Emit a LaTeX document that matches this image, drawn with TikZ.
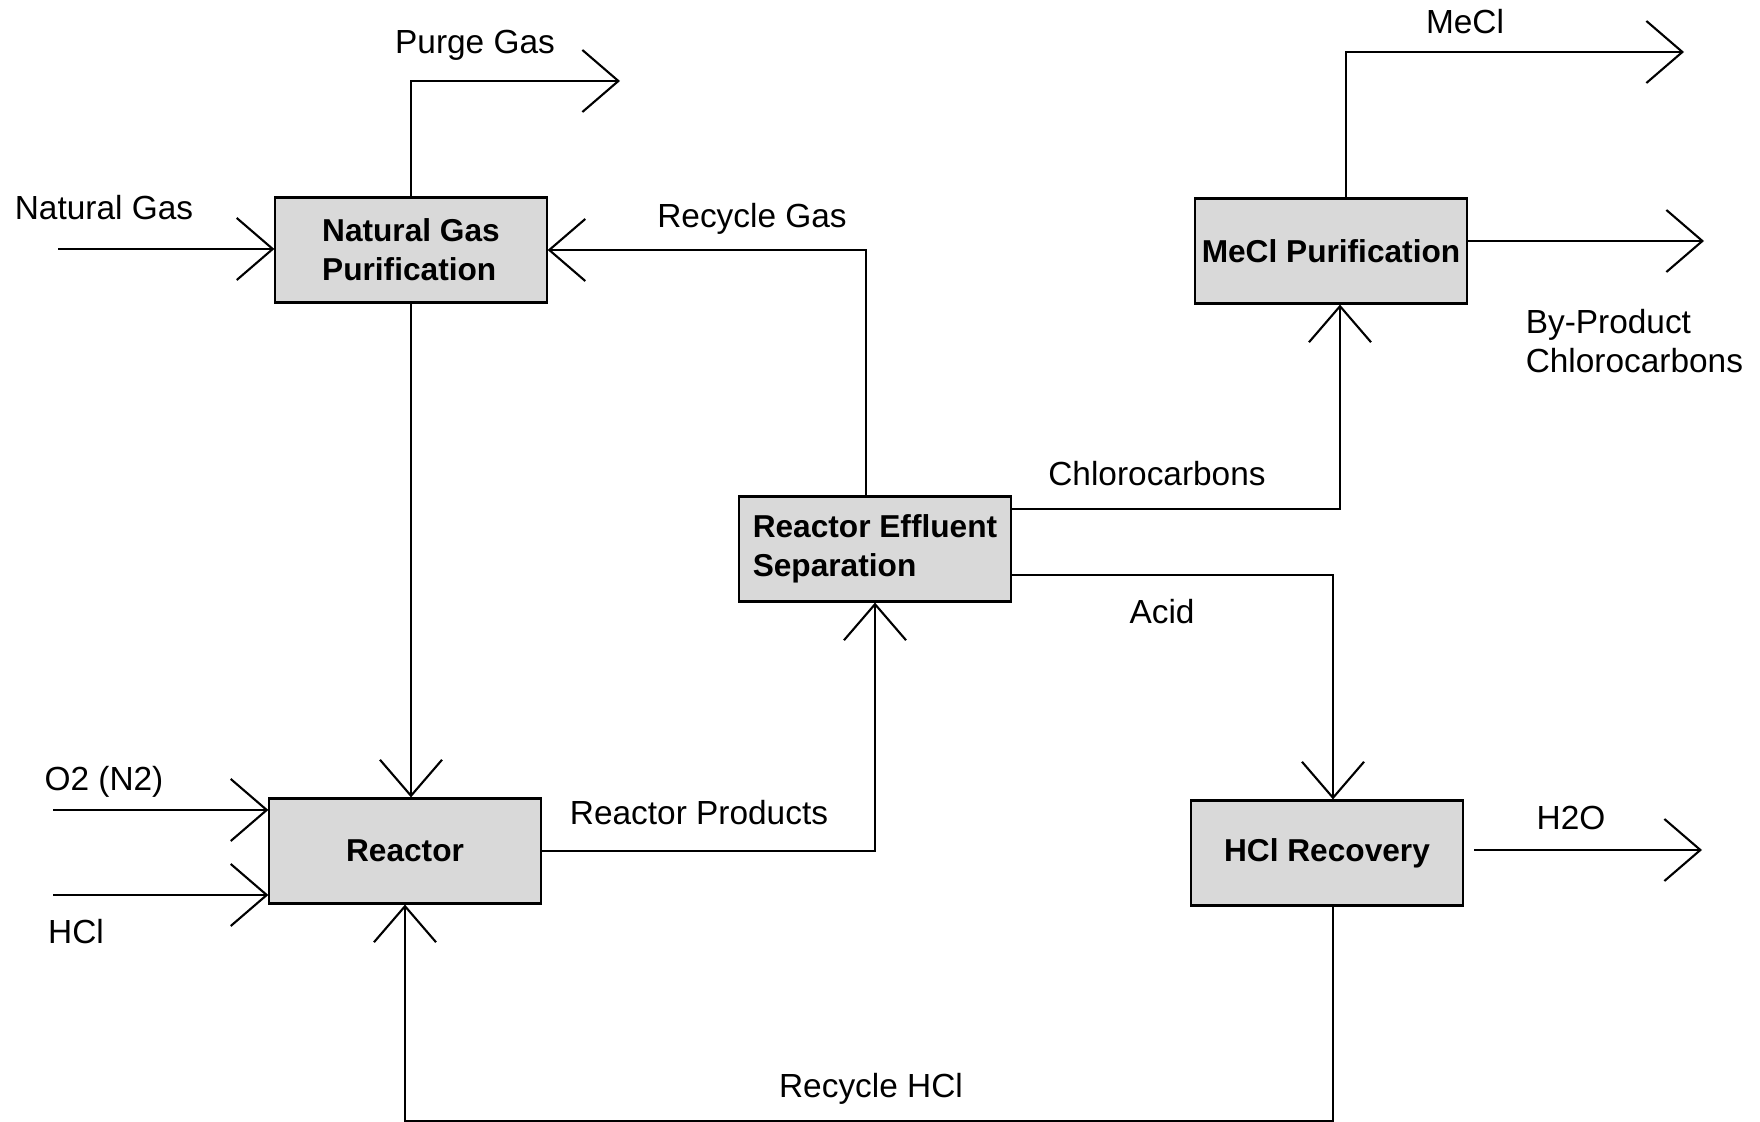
\documentclass[tikz,border=0pt]{standalone}
\usepackage{fontspec}
\setmainfont{Liberation Sans}
\usetikzlibrary{arrows.meta,positioning}

\begin{document}
\begin{tikzpicture}[
  x=0.01cm, y=-0.01cm,
  font=\fontsize{9.5}{11}\selectfont,
  line width=0.6pt,
  box/.style={draw, fill=gray!30, align=left, minimum width=2.71cm, minimum height=1.05cm, inner sep=2pt, font=\fontsize{9}{11}\selectfont\bfseries},
  arrow/.style={-{Straight Barb[length=3.6mm, width=6.2mm]}}
]
\useasboundingbox (0,0) rectangle (1760,1122);

% process units
\node[box] (ngp) at (411,250) {Natural Gas\\Purification};
\node[box] (reactor) at (405,851) {Reactor};
\node[box] (sep) at (875,549) {Reactor Effluent\\Separation};
\node[box] (mecl) at (1331,251) {MeCl Purification};
\node[box] (hclrec) at (1327,853) {HCl Recovery};

% free ends of the streams
\coordinate (ngin) at (58,249);
\coordinate (o2in) at (53,810);
\coordinate (hclin) at (53,895);
\coordinate (purge) at (620,81);
\coordinate (meclout) at (1684,52);
\coordinate (byout) at (1704,241);
\coordinate (h2ostart) at (1474,850);
\coordinate (h2oout) at (1702,850);
\coordinate (bottom) at (0,1121);

% streams
\draw[arrow] (ngin) -- (ngin -| ngp.west);
\draw[arrow] (ngp.north) |- (purge);
\draw[arrow] (ngp.south) -- (ngp.south |- reactor.north);
\draw[arrow] ([xshift=-0.09cm]sep.north) |- (ngp.east);
\draw[arrow] (o2in) -- (o2in -| reactor.west);
\draw[arrow] (hclin) -- (hclin -| reactor.west);
\draw[arrow] (reactor.east) -| (sep.south);
\draw[arrow] ([yshift=-0.14cm]sep.north east) -| ([xshift=0.09cm]mecl.south);
\draw[arrow] ([yshift=0.28cm]sep.south east) -| ([xshift=0.06cm]hclrec.north);
\draw[arrow] ([xshift=0.15cm]mecl.north) |- (meclout);
\draw[arrow] (mecl.east |- byout) -- (byout);
\draw[arrow] (h2ostart) -- (h2oout);
\draw[arrow] ([xshift=0.06cm]hclrec.south) -- ([xshift=0.06cm]hclrec.south |- bottom) -| (reactor.south);

% stream labels
\node (lngas) at (104,208) {Natural Gas};
\node (lpurge) at (475,45) {Purge Gas};
\node (lrecgas) at (752,219) {Recycle Gas};
\node (lo2) at (104,782) {O2 (N2)};
\node (lhcl) at (76,932) {HCl};
\node (lprod) at (699,813) {Reactor Products};
\node (lchloro) at (1157,474) {Chlorocarbons};
\node (lacid) at (1162,612) {Acid};
\node (lmecl) at (1465,22) {MeCl};
\node[align=left, anchor=west] (lby) at (1513,341) {By-Product\\Chlorocarbons};
\node (lh2o) at (1571,818) {H2O};
\node (lrechcl) at (871,1089) {Recycle HCl};
\end{tikzpicture}
\end{document}
